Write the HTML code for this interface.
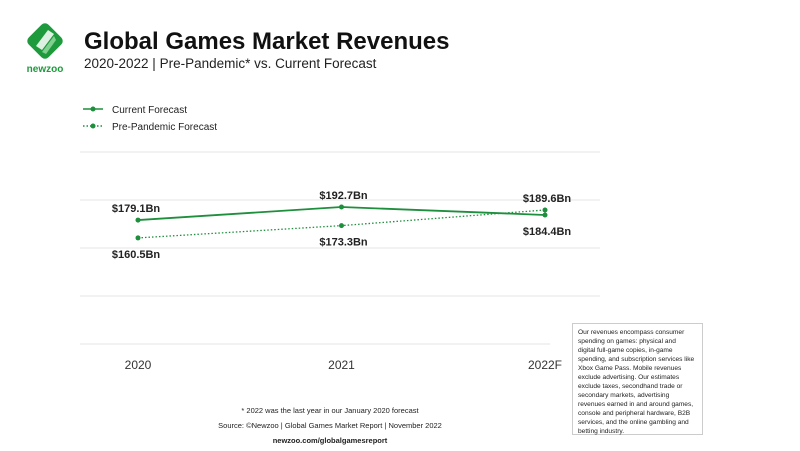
<!DOCTYPE html>
<html><head><meta charset="utf-8"><style>
body{margin:0;width:800px;height:451px;background:#fff;font-family:"Liberation Sans",sans-serif;overflow:hidden;position:relative}
.a{position:absolute;white-space:nowrap}
</style></head><body>
<svg class="a" style="left:0;top:0" width="800" height="451">
<g>
<rect x="31" y="27" width="28" height="28" rx="5" transform="rotate(45 45 41)" fill="#1e9a3c"/>
<path d="M36 46 L48 30 L54 34 L42 50 Z" fill="#fff" opacity="0.85"/>
<path d="M42 52 L54 36 L56 40 L46 54 Z" fill="#7fd08f"/>
<text x="45" y="72" font-size="10" font-weight="bold" fill="#1e9a3c" text-anchor="middle">newzoo</text>
</g>
<text x="84" y="49" font-size="24" font-weight="bold" fill="#111">Global Games Market Revenues</text>
<text x="84" y="68" font-size="13.5" fill="#222">2020-2022 | Pre-Pandemic* vs. Current Forecast</text>
<g>
<line x1="83" y1="109" x2="103" y2="109" stroke="#1e8f3c" stroke-width="1.5"/><circle cx="93" cy="109" r="2.5" fill="#1e8f3c"/>
<text x="112" y="113" font-size="10" fill="#222">Current Forecast</text>
<line x1="83" y1="126" x2="103" y2="126" stroke="#1e8f3c" stroke-width="1.5" stroke-dasharray="1.5 2"/><circle cx="93" cy="126" r="2.5" fill="#1e8f3c"/>
<text x="112" y="130" font-size="10" fill="#222">Pre-Pandemic Forecast</text>
</g>
<g id="grid"></g><g id="marks"></g>
<g font-size="7.5" fill="#222" text-anchor="middle">
<text x="330" y="413">* 2022 was the last year in our January 2020 forecast</text>
<text x="330" y="428">Source: ©Newzoo | Global Games Market Report | November 2022</text>
<text x="330" y="443" font-weight="bold">newzoo.com/globalgamesreport</text>
</g>
<rect x="572.5" y="323.5" width="130" height="111" fill="#fff" stroke="#ccc"/>
<text font-size="6.6" fill="#222">
<tspan x="578" y="334">Our revenues encompass consumer</tspan>
<tspan x="578" y="343">spending on games: physical and</tspan>
<tspan x="578" y="352">digital full-game copies, in-game</tspan>
<tspan x="578" y="361">spending, and subscription services like</tspan>
<tspan x="578" y="370">Xbox Game Pass. Mobile revenues</tspan>
<tspan x="578" y="379">exclude advertising. Our estimates</tspan>
<tspan x="578" y="388">exclude taxes, secondhand trade or</tspan>
<tspan x="578" y="397">secondary markets, advertising</tspan>
<tspan x="578" y="406">revenues earned in and around games,</tspan>
<tspan x="578" y="415">console and peripheral hardware, B2B</tspan>
<tspan x="578" y="424">services, and the online gambling and</tspan>
<tspan x="578" y="433">betting industry.</tspan>
</text>
</svg>
<script>
const categories=["2020","2021","2022F"];
const current=[179.1,192.7,184.4];
const prePandemic=[160.5,173.3,189.6];
const gridValues=[250,200,150,100,50];
const NS="http://www.w3.org/2000/svg";
const xs=i=>138+i*203.5;
const ys=v=>200-(v-200)*0.96;
function mk(t,a,p){const e=document.createElementNS(NS,t);for(const k in a)e.setAttribute(k,a[k]);p.appendChild(e);return e;}
const grid=document.getElementById('grid'),marks=document.getElementById('marks');
gridValues.forEach(v=>{const l=mk('line',{x1:80,x2:v===50?550:600,y1:ys(v),y2:ys(v),stroke:'#e6e6e6','stroke-width':1},grid);

});
categories.forEach((c,i)=>{const t=mk('text',{x:xs(i),y:369,'font-size':12,fill:'#333','text-anchor':'middle'},grid);t.textContent=c;

});
function series(vals,dash,name,labelAbove){
 const p=mk('polyline',{points:vals.map((v,i)=>xs(i)+','+ys(v)).join(' '),fill:'none',stroke:'#1e8f3c','stroke-width':dash?1.3:1.8,'stroke-dasharray':dash?'1.5 2':'none'},marks);
 
 
 vals.forEach((v,i)=>{const c=mk('circle',{cx:xs(i),cy:ys(v),r:2.5,fill:'#1e8f3c'},marks);
 
 
 const above=labelAbove[i];
 const t=mk('text',{x:xs(i)+(i==0?-2:2),y:above?ys(v)-8:ys(v)+20,'font-size':11,'font-weight':'bold',fill:'#222','text-anchor':'middle'},marks);
 t.textContent='$'+v.toFixed(1)+'Bn';
 
 });
}
series(current,false,'current-forecast',[true,true,false]);
series(prePandemic,true,'pre-pandemic-forecast',[false,false,true]);
</script>
</body></html>
